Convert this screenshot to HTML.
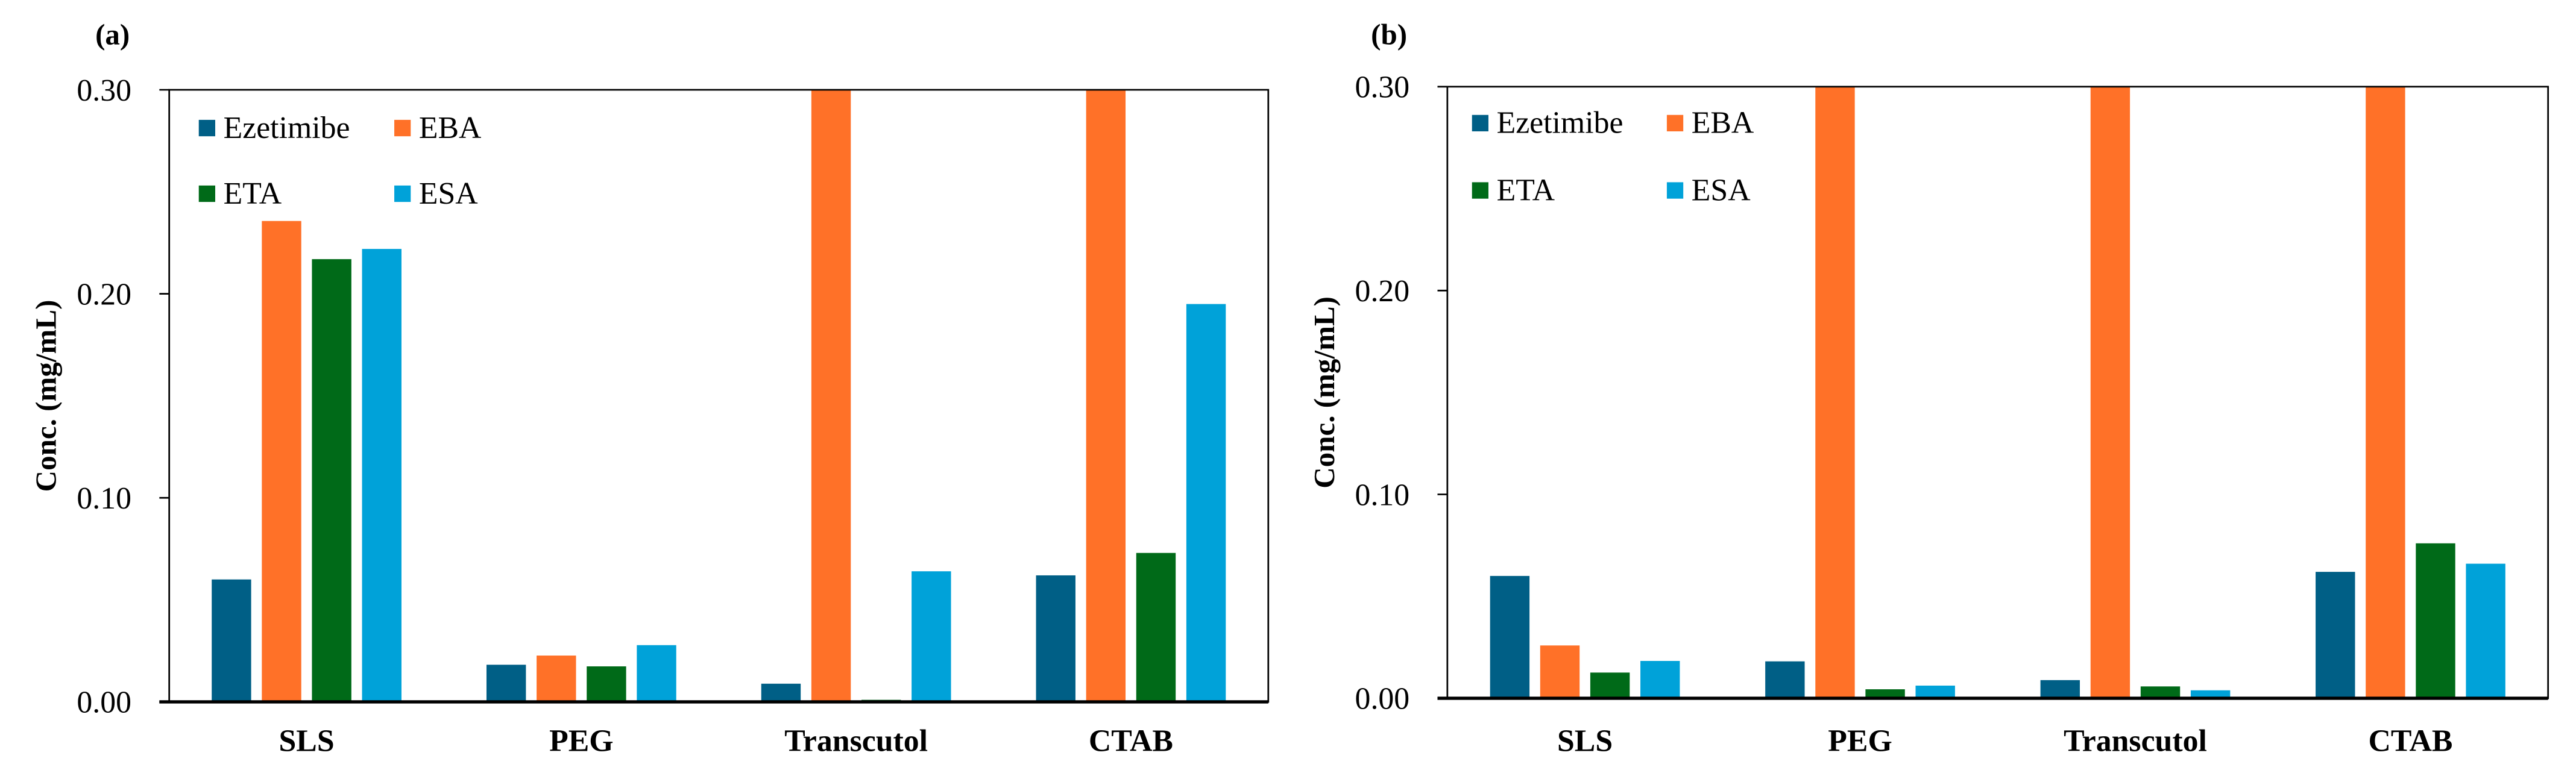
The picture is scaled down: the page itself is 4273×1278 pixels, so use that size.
<!DOCTYPE html>
<html><head><meta charset="utf-8"><style>
html,body{margin:0;padding:0;background:#fff;}
svg{display:block;}
text{font-family:"Liberation Serif","Times New Roman",serif;fill:#000;}
</style></head><body>
<svg id="fig" width="4273" height="1278" viewBox="0 0 1568 469" preserveAspectRatio="none" xmlns="http://www.w3.org/2000/svg"></svg>
<script>
const categories = ["SLS","PEG","Transcutol","CTAB"];
const seriesNames = ["Ezetimibe","EBA","ETA","ESA"];
const seriesColors = ["#005f86","#ff7128","#006a18","#00a2d9"];
const yTicks = [0, 0.10, 0.20, 0.30];
const yTickLabels = ["0.00","0.10","0.20","0.30"];
const panelA_Ezetimibe = [0.060, 0.0182, 0.0089, 0.062];
const panelA_EBA = [0.2357, 0.0227, 0.30, 0.30];
const panelA_ETA = [0.217, 0.0174, 0.001, 0.073];
const panelA_ESA = [0.222, 0.0278, 0.064, 0.195];
const panelB_Ezetimibe = [0.060, 0.0181, 0.0089, 0.062];
const panelB_EBA = [0.0259, 0.30, 0.30, 0.30];
const panelB_ETA = [0.0126, 0.0044, 0.0058, 0.076];
const panelB_ESA = [0.0183, 0.0062, 0.0039, 0.066];

const NS = "http://www.w3.org/2000/svg";
const svg = document.getElementById("fig");
function mk(tag, attrs, parent, txt){
  const e = document.createElementNS(NS, tag);
  for (const k in attrs) e.setAttribute(k, attrs[k]);
  if (txt !== undefined) e.textContent = txt;
  (parent || svg).appendChild(e);
  return e;
}
function panel(opt){
  const g = mk("g", {});
  
  
  const x0 = opt.x0, x1 = opt.x1, yTop = opt.yTop, yBot = opt.yBot;
  const yMax = 0.30;
  const yScale = v => yBot - (Math.min(v, yMax) / yMax) * (yBot - yTop);
  const catW = (x1 - x0) / categories.length;
  const xCenter = i => x0 + catW * (i + 0.5);
  const offsets = [-45.75, -15.25, 15.25, 45.75];
  const bw = 24;
  // label
  const lab = mk("text", {x: opt.labelX, y: 27, "text-anchor": "middle", "font-size": 18, "font-weight": "bold"}, g, opt.label);
  
  
  // bars
  opt.data.forEach((vals, s) => {
    vals.forEach((v, i) => {
      const y = yScale(v);
      const r = mk("rect", {x: xCenter(i) + offsets[s] - bw / 2, y: y, width: bw, height: yBot - y, fill: seriesColors[s]}, g);
      
      
    });
  });
  // axes frame
  const fr = mk("rect", {x: x0, y: yTop, width: x1 - x0, height: yBot - yTop, fill: "none", stroke: "#000", "stroke-width": 1}, g);
  
  
  const xa = mk("line", {x1: x0 - 6, x2: x1, y1: yBot, y2: yBot, stroke: "#000", "stroke-width": 2}, g);
  
  
  // y ticks
  yTicks.forEach((t, k) => {
    const y = yScale(t);
    const tl = mk("line", {x1: x0 - 6, x2: x0, y1: y, y2: y, stroke: "#000", "stroke-width": 1}, g);
    
    
    const tx = mk("text", {x: opt.tickRight, y: y + 6.5, "text-anchor": "end", "font-size": 19}, g, yTickLabels[k]);
    
    
  });
  // categories
  categories.forEach((c, i) => {
    const t = mk("text", {x: xCenter(i), y: 457.5, "text-anchor": "middle", "font-size": 19, "font-weight": "bold"}, g, c);
    
    
  });
  // y title
  const yc = (yTop + yBot) / 2;
  const yt = mk("text", {x: opt.titleX, y: yc, "text-anchor": "middle", "font-size": 18, "font-weight": "bold", transform: "rotate(-90 " + opt.titleX + " " + yc + ")"}, g, "Conc. (mg/mL)");
  
  
  // legend
  const lg = mk("g", {}, g);
  
  
  seriesNames.forEach((n, s) => {
    const col = s % 2, row = Math.floor(s / 2);
    const sx = opt.legX[col], sy = opt.legY[row];
    const e = mk("g", {}, lg);
    
    
    mk("rect", {x: sx, y: sy, width: 10, height: 10, fill: seriesColors[s]}, e);
    mk("text", {x: sx + 15, y: sy + 11, "font-size": 19}, e, n);
  });
}
panel({name: "panel-a", label: "(a)", labelX: 68.5, x0: 103, x1: 772, yTop: 54.7, yBot: 427.5,
  tickRight: 80, titleX: 34, legX: [121, 240], legY: [73, 113],
  data: [panelA_Ezetimibe, panelA_EBA, panelA_ETA, panelA_ESA]});
panel({name: "panel-b", label: "(b)", labelX: 845.5, x0: 881, x1: 1551, yTop: 52.8, yBot: 425.3,
  tickRight: 858, titleX: 812, legX: [896, 1014.6], legY: [70, 111],
  data: [panelB_Ezetimibe, panelB_EBA, panelB_ETA, panelB_ESA]});
</script>
</body></html>
